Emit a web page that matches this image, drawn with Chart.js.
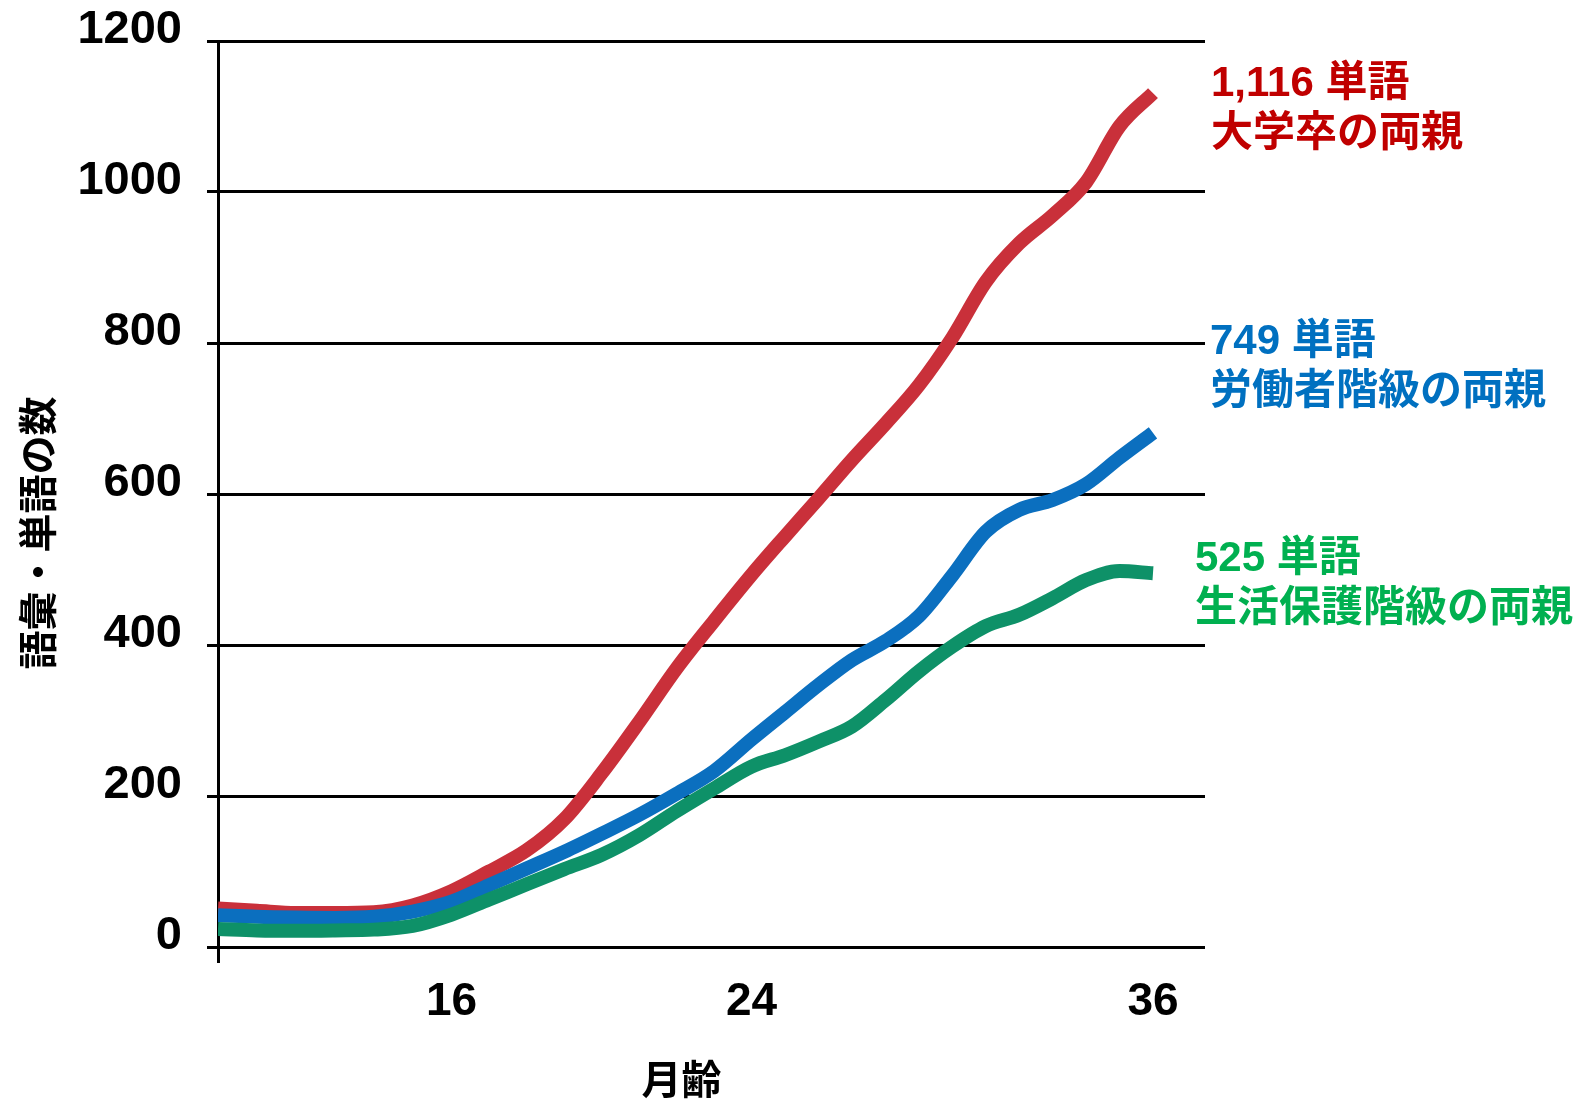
<!DOCTYPE html>
<html>
<head>
<meta charset="utf-8">
<script src="https://cdn.jsdelivr.net/npm/chart.js@4.4.1/dist/chart.umd.min.js"></script>
<style>
  html, body { margin: 0; padding: 0; background: #ffffff; }
  canvas { display: block; }
</style>
</head>
<body>
<canvas id="chart" width="1584" height="1100" style="width:1584px;height:1100px"></canvas>
<script>
// ---------------- data ----------------
const months = [10, 11, 12, 13, 14, 15, 16, 17, 18, 19, 20, 21, 22, 23, 24, 25, 26, 27, 28, 29, 30, 31, 32, 33, 34, 35, 36];
const collegeWords = [51, 48, 45, 45, 46, 55, 74, 100, 128, 169, 230, 298, 369, 432, 493, 544, 594, 645, 693, 744, 807, 881, 932, 969, 1013, 1087, 1131];
const workingWords = [42, 40, 39, 38.5, 40, 47, 60, 82, 104, 126, 150, 175, 203, 233, 275, 311, 347, 380, 405, 438, 492, 550, 579, 592, 613, 648, 681];
const welfareWords = [24, 22, 21.5, 22, 23, 28, 43, 63, 83, 103, 122, 148, 180, 210, 239, 254, 272, 292, 327, 365, 398, 425, 440, 462, 486, 498, 495];
const xTickMonths = [16, 24, 36];
const yTickValues = [0, 200, 400, 600, 800, 1000, 1200];
const seriesNames = ['大学卒の両親', '労働者階級の両親', '生活保護階級の両親'];
const finalCounts = ['1,116', '749', '525'];
const wordUnit = '単語';
const yTitleText = '語彙・単語の数';
const xTitleText = '月齢';

// ---------------- styling / layout ----------------
const lineColors = ['#C9303A', '#0B6FBF', '#0E9168'];
const noteColors = ['#C00000', '#0070C0', '#00B050'];
// note anchors (in y-value units) and horizontal offsets from the plot's right edge
const noteAnchorValues = [1142, 801, 513];
const noteOffsetsX = [6, 5, -10];
const noteLineGap = 50;
const noteFont = 'bold 42px "Liberation Sans", "Noto Sans CJK JP", sans-serif';

// The reference's month axis is drawn unevenly: knots mapping months to axis fraction
const xKnotMonths = [10, 16, 24, 36, 37.55];
const xKnotFractions = [0, 0.2367, 0.5406, 0.9473, 1];

function monthToFraction(v) {
  const m = xKnotMonths, f = xKnotFractions;
  let i = 0;
  while (i < m.length - 2 && v > m[i + 1]) i++;
  return f[i] + (v - m[i]) / (m[i + 1] - m[i]) * (f[i + 1] - f[i]);
}
function fractionToMonth(d) {
  const m = xKnotMonths, f = xKnotFractions;
  let i = 0;
  while (i < f.length - 2 && d > f[i + 1]) i++;
  return m[i] + (d - f[i]) / (f[i + 1] - f[i]) * (m[i + 1] - m[i]);
}

class BentLinearScale extends Chart.LinearScale {
  getPixelForValue(value) {
    if (value === null || value === undefined || isNaN(value)) return NaN;
    return this.getPixelForDecimal(monthToFraction(value));
  }
  getValueForPixel(pixel) {
    return fractionToMonth(this.getDecimalForPixel(pixel));
  }
}
BentLinearScale.id = 'bentLinear';
BentLinearScale.defaults = Chart.LinearScale.defaults;
Chart.register(BentLinearScale);

Chart.defaults.font.family = '"Liberation Sans", Arial, sans-serif';
Chart.defaults.color = '#000000';

const toPoints = (vals) => months.map((m, i) => ({ x: m, y: vals[i] }));

const notesPlugin = {
  id: 'seriesNotes',
  afterDatasetsDraw(chart) {
    const { ctx, chartArea, scales } = chart;
    const y = scales.y;
    ctx.save();
    ctx.font = noteFont;
    ctx.textBaseline = 'middle';
    ctx.textAlign = 'left';
    seriesNames.forEach((name, i) => {
      const y0 = y.getPixelForValue(noteAnchorValues[i]);
      const x0 = chartArea.right + noteOffsetsX[i];
      ctx.fillStyle = noteColors[i];
      ctx.fillText(finalCounts[i] + ' ' + wordUnit, x0, y0);
      ctx.fillText(name, x0, y0 + noteLineGap);
    });
    ctx.restore();
  }
};

const allSeries = [collegeWords, workingWords, welfareWords];

new Chart(document.getElementById('chart'), {
  type: 'line',
  data: {
    datasets: allSeries.map((vals, i) => ({
      label: seriesNames[i],
      data: toPoints(vals),
      borderColor: lineColors[i],
      backgroundColor: lineColors[i],
      borderWidth: 14,
      pointRadius: 0,
      pointHoverRadius: 0,
      fill: false,
      cubicInterpolationMode: 'monotone',
      borderCapStyle: 'butt',
      borderJoinStyle: 'round',
      order: 3 - i
    }))
  },
  options: {
    responsive: false,
    devicePixelRatio: 1,
    animation: false,
    events: [],
    layout: { padding: { top: 41, right: 379, bottom: 0, left: 0 } },
    plugins: {
      legend: { display: false },
      tooltip: { enabled: false },
      title: { display: false }
    },
    scales: {
      x: {
        type: 'bentLinear',
        position: 'bottom',
        min: xKnotMonths[0],
        max: xKnotMonths[xKnotMonths.length - 1],
        afterBuildTicks: (s) => { s.ticks = [xKnotMonths[0]].concat(xTickMonths).map(v => ({ value: v })); },
        afterFit: (s) => { s.height = 153; s.paddingLeft = 0; s.paddingRight = 0; },
        ticks: {
          autoSkip: false,
          maxRotation: 0,
          minRotation: 0,
          padding: 12,
          color: '#000000',
          font: { size: 46, weight: 'bold' },
          callback: (v) => (xTickMonths.includes(v) ? String(v) : '')
        },
        grid: {
          drawOnChartArea: false,
          drawTicks: true,
          tickLength: 16,
          lineWidth: 3,
          color: (ctx) => (ctx.tick && ctx.tick.value === xKnotMonths[0] ? '#000000' : 'rgba(0,0,0,0)')
        },
        border: { display: false },
        title: {
          display: true,
          text: xTitleText + '\u3000\u2002',
          color: '#000000',
          font: { family: '"Noto Sans CJK JP", sans-serif', size: 40, weight: 'bold', lineHeight: 1.0 },
          padding: { top: 0, bottom: 1 }
        }
      },
      y: {
        type: 'linear',
        position: 'left',
        min: 0,
        max: 1200,
        afterBuildTicks: (s) => { s.ticks = yTickValues.map(v => ({ value: v })); },
        afterFit: (s) => { s.width = 218; s.paddingTop = 0; s.paddingBottom = 0; },
        ticks: {
          stepSize: 200,
          autoSkip: false,
          padding: 25,
          color: '#000000',
          font: { size: 47, weight: 'bold', lineHeight: 21 / 47 },
          callback: (v) => [String(v), '']
        },
        grid: {
          color: '#000000',
          lineWidth: 3,
          drawTicks: true,
          tickLength: 11
        },
        border: { display: true, color: '#000000', width: 3 },
        title: {
          display: true,
          text: yTitleText + '\u3000\u3000',
          color: '#000000',
          font: { family: '"Noto Sans CJK JP", sans-serif', size: 39, weight: 'bold', lineHeight: 1.2 },
          padding: { top: 14, bottom: 0 }
        }
      }
    }
  },
  plugins: [notesPlugin]
});
</script>
</body>
</html>
